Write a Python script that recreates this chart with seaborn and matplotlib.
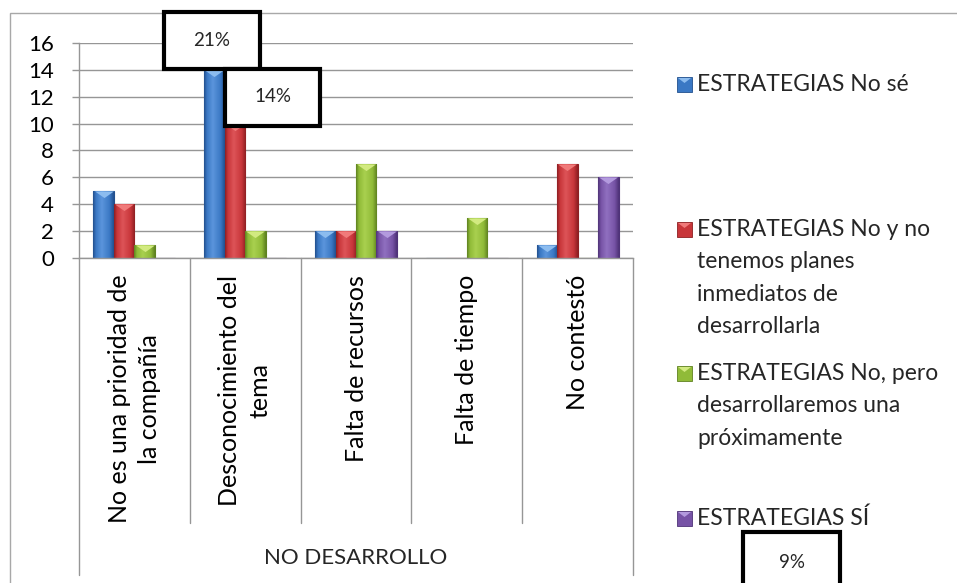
import numpy as np
import pandas as pd
import matplotlib
matplotlib.use("Agg")
import matplotlib.pyplot as plt
import seaborn as sns
from matplotlib.patches import Rectangle, Polygon
from matplotlib.path import Path
from matplotlib.colors import LinearSegmentedColormap

# ---- data -------------------------------------------------------------
categories = [
    "No es una prioridad de\nla compañía",
    "Desconocimiento del\ntema",
    "Falta de recursos",
    "Falta de tiempo",
    "No contestó",
]
series = [
    "ESTRATEGIAS No sé",
    "ESTRATEGIAS No y no tenemos planes inmediatos de desarrollarla",
    "ESTRATEGIAS No, pero desarrollaremos una próximamente",
    "ESTRATEGIAS SÍ",
]
legend_labels = [
    "ESTRATEGIAS No sé",
    "ESTRATEGIAS No y no\ntenemos planes\ninmediatos de\ndesarrollarla",
    "ESTRATEGIAS No, pero\ndesarrollaremos una\npróximamente",
    "ESTRATEGIAS SÍ",
]
no_se = [5, 14, 2, 0, 1]
no_sin_planes = [4, 10, 2, 0, 7]
no_pero_pronto = [1, 2, 7, 3, 0]
si = [0, 0, 2, 0, 6]
group_label = "NO DESARROLLO"
y_ticks = [0, 2, 4, 6, 8, 10, 12, 14, 16]
callouts = ["21%", "14%", "9%"]

# ---- styling ------------------------------------------------------------
fill = ["#3a78c4", "#c8363a", "#90bb38", "#7753a6"]
edge = ["#22508e", "#8e1f22", "#5f8220", "#4f3378"]
light = ["#8cbcef", "#f07a7a", "#d2ea80", "#b39ade"]
shine = ["#5b95dc", "#dd5458", "#a9d04f", "#9070c0"]
grid_c = "#969696"

W, H = 957, 583
sns.set_theme(style="white")
plt.rcParams["font.family"] = ["Lato", "DejaVu Sans"]

fig = plt.figure(figsize=(W / 100, H / 100), dpi=100)
fig.patch.set_facecolor("white")


def fx(x):
    return x / W


def fy(y):
    return 1 - y / H


ax = fig.add_axes([fx(79), fy(258), (633 - 79) / W, (258 - 43) / H])

df = pd.DataFrame({
    "categoria": np.repeat(categories, len(series)),
    "serie": series * len(categories),
    "valor": np.array([no_se, no_sin_planes, no_pero_pronto, si]).T.ravel(),
})

sns.barplot(data=df, x="categoria", y="valor", hue="serie", order=categories,
            hue_order=series, palette=fill, saturation=1, width=0.74,
            legend=False, ax=ax, zorder=3)

# cylinder-like shading, dark outline and a light bevel triangle on top
tri = Path([(-1, 0), (1, 0), (0, -0.7), (-1, 0)],
           [Path.MOVETO, Path.LINETO, Path.LINETO, Path.CLOSEPOLY])
grad = np.linspace(0, 1, 64).reshape(1, -1)
for i, cont in enumerate(ax.containers):
    cmap = LinearSegmentedColormap.from_list(
        f"bar{i}", [(0, edge[i]), (0.14, fill[i]), (0.42, shine[i]),
                    (0.8, fill[i]), (1, edge[i])])
    for bar in cont:
        bar.set_edgecolor(edge[i])
        bar.set_linewidth(0.8)
        h = bar.get_height()
        if h <= 0:
            continue
        x0, w = bar.get_x(), bar.get_width()
        im = ax.imshow(grad, cmap=cmap, extent=[x0, x0 + w, 0, h],
                       aspect="auto", zorder=3.2, interpolation="bilinear")
        im.set_clip_path(bar)
        ax.plot(x0 + w / 2, h, marker=tri, markersize=13.5, color=light[i],
                markeredgewidth=0, zorder=4, clip_on=False)

ax.set_aspect("auto")
ax.set_xlim(-0.5, len(categories) - 0.5)
ax.set_ylim(0, 16)
ax.set_yticks(y_ticks)
ax.set_yticklabels([str(t) for t in y_ticks], fontsize=16)
ax.yaxis.grid(True, color=grid_c, linewidth=1, zorder=0)
ax.set_axisbelow(True)
ax.tick_params(axis="y", left=True, direction="out", length=5, width=1,
               color=grid_c, pad=13, labelcolor="black")
ax.set_xticks(range(len(categories)))
ax.set_xticklabels(categories, rotation=90, va="top", ha="center",
                   multialignment="center", fontsize=18, linespacing=1.4)
ax.tick_params(axis="x", length=0, pad=12, labelcolor="black")
ax.set_xlabel("")
ax.set_ylabel("")
for s in ["top", "right"]:
    ax.spines[s].set_visible(False)
for s in ["left", "bottom"]:
    ax.spines[s].set_color(grid_c)
    ax.spines[s].set_linewidth(1)
ax.spines["bottom"].set_zorder(5)

# category dividers below the axis and the outer group frame
tr = ax.get_xaxis_transform()
n = len(categories)
for k in range(n + 1):
    xb = k - 0.5
    y_end = -1.474 if k in (0, n) else -1.233
    ax.plot([xb, xb], [0, y_end], color=grid_c, lw=1, transform=tr,
            clip_on=False, zorder=1)
ax.text((n - 1) / 2, -1.395, group_label, transform=tr, ha="center",
        va="center", fontsize=16)

# outer chart border
fig.add_artist(Rectangle((fx(10), fy(H + 5)), (W - 5) / W, (H - 8) / H,
                         transform=fig.transFigure, fill=False,
                         edgecolor="#a8a8a8", lw=1, zorder=0))

# legend (square key with bevel, wrapped labels)
leg_baselines = [91, 236, 380, 525]
pitch = 32.3
for i, (lab, yb) in enumerate(zip(legend_labels, leg_baselines)):
    fig.add_artist(Rectangle((fx(677), fy(yb + 1)), 15 / W, 15 / H,
                             transform=fig.transFigure, facecolor=fill[i],
                             edgecolor=edge[i], lw=0.6, zorder=5))
    fig.add_artist(Polygon([(fx(678), fy(yb - 13)), (fx(691), fy(yb - 13)),
                            (fx(684.5), fy(yb - 8))], closed=True,
                           transform=fig.transFigure, facecolor=light[i],
                           edgecolor="none", zorder=6))
    for j, line in enumerate(lab.split("\n")):
        fig.text(fx(697), fy(yb + j * pitch), line, ha="left",
                 va="baseline", fontsize=16.5)

# percentage call-out boxes
boxes = [(164, 12, 260, 69), (225, 69, 320, 126), (743, 532, 840, 600)]
text_y = [41, 97, 562]
for txt, (x0, y0, x1, y1), ty in zip(callouts, boxes, text_y):
    fig.add_artist(Rectangle((fx(x0), fy(y1)), (x1 - x0) / W, (y1 - y0) / H,
                             transform=fig.transFigure, facecolor="white",
                             edgecolor="black", lw=3, zorder=10))
    fig.text(fx((x0 + x1) / 2), fy(ty), txt, ha="center", va="center",
             fontsize=13.5, zorder=11)

fig.savefig("out.png", dpi=100)
